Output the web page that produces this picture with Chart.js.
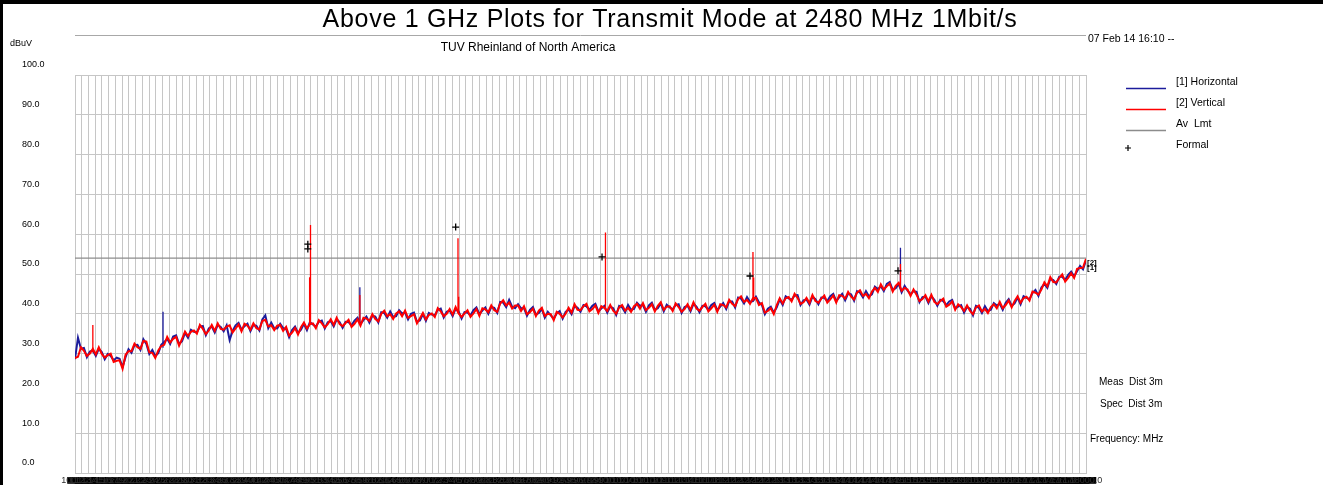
<!DOCTYPE html>
<html>
<head>
<meta charset="utf-8">
<title>Above 1 GHz Plots for Transmit Mode at 2480 MHz 1Mbit/s</title>
<script src="https://cdn.jsdelivr.net/npm/chart.js@4.4.0/dist/chart.umd.min.js"></script>
<style>
  html, body { margin: 0; padding: 0; background: #fff; }
  #c { display: block; }
</style>
</head>
<body>
<canvas id="c" width="1323" height="485"></canvas>
<script>
// Sweep: 1000 MHz to 18000 MHz, one reading every 50 MHz
const freqStartMHz = 1000;
const freqStopMHz = 18000;
const sweepStepMHz = 50;

// [1] Horizontal polarisation, dBuV
const horizontalDbuv = [
  28.6, 34.0, 31.2, 31.4, 29.1, 30.5, 30.8, 29.4, 31.2, 30.4,
  28.6, 29.9, 29.4, 28.3, 29.0, 28.7, 26.6, 29.1, 31.1, 30.2,
  32.1, 32.2, 30.9, 33.6, 32.4, 29.9, 30.9, 29.4, 30.1, 32.2,
  32.9, 33.7, 32.4, 34.3, 34.6, 32.4, 33.1, 35.2, 34.0, 36.0,
  35.5, 35.4, 36.8, 36.9, 34.6, 36.3, 36.8, 35.3, 37.2, 36.7,
  35.6, 37.1, 33.4, 35.7, 37.1, 37.7, 36.0, 36.9, 37.5, 35.6,
  37.2, 37.0, 35.8, 38.6, 39.6, 36.4, 37.8, 36.4, 36.3, 37.5,
  36.4, 36.2, 34.1, 35.9, 36.8, 35.2, 36.0, 37.5, 35.9, 37.9,
  37.3, 36.8, 38.0, 38.3, 36.3, 37.9, 38.2, 36.8, 38.6, 37.9,
  36.5, 38.0, 37.9, 37.1, 38.3, 39.0, 37.4, 38.4, 39.3, 37.8,
  39.5, 39.3, 37.8, 40.4, 40.2, 39.0, 40.6, 39.2, 39.4, 40.9,
  40.1, 40.3, 38.6, 40.0, 40.3, 38.0, 38.3, 39.9, 38.2, 40.2,
  39.8, 39.6, 41.0, 41.3, 39.1, 40.5, 40.8, 39.4, 41.3, 40.6,
  38.8, 40.4, 40.3, 39.6, 40.9, 41.6, 39.9, 40.8, 41.6, 40.0,
  41.7, 41.5, 40.2, 43.0, 42.8, 41.7, 43.5, 41.8, 41.4, 42.4,
  41.4, 41.4, 39.5, 41.0, 41.7, 39.8, 40.2, 41.2, 39.0, 40.5,
  39.6, 38.8, 40.1, 40.7, 38.8, 40.5, 41.1, 39.9, 42.0, 41.5,
  40.5, 42.2, 41.9, 41.0, 42.0, 42.5, 40.6, 41.3, 42.0, 40.3,
  41.8, 41.4, 39.7, 42.0, 41.6, 40.4, 42.2, 41.0, 41.2, 42.8,
  42.0, 42.2, 40.5, 42.1, 42.8, 41.0, 41.4, 42.6, 40.6, 42.3,
  41.6, 41.1, 42.2, 42.4, 40.2, 41.7, 42.0, 40.6, 42.5, 41.8,
  40.4, 42.0, 41.9, 41.0, 42.2, 42.7, 40.9, 41.8, 42.7, 41.2,
  43.1, 43.1, 41.6, 44.1, 43.8, 42.6, 44.2, 43.0, 43.2, 44.3,
  42.9, 42.2, 39.9, 41.3, 41.8, 40.3, 41.6, 43.6, 42.2, 44.4,
  43.9, 43.5, 44.6, 44.7, 42.2, 43.4, 43.6, 42.3, 44.3, 43.7,
  42.4, 44.1, 44.0, 43.2, 44.4, 45.0, 43.2, 44.1, 45.0, 43.4,
  45.1, 44.9, 43.3, 45.7, 45.3, 44.1, 45.7, 44.4, 44.9, 46.8,
  46.2, 46.9, 45.7, 47.5, 48.0, 46.0, 46.4, 47.5, 45.4, 47.0,
  45.8, 44.9, 45.7, 45.5, 42.9, 44.2, 44.3, 42.7, 44.4, 43.5,
  42.0, 43.5, 43.2, 42.2, 43.1, 43.5, 41.4, 41.8, 42.2, 40.3,
  41.7, 41.3, 39.6, 42.0, 41.5, 40.2, 41.9, 40.7, 41.0, 42.7,
  42.1, 42.5, 41.0, 42.8, 43.7, 42.0, 42.6, 44.1, 42.4, 44.4,
  44.0, 43.7, 45.2, 46.0, 44.5, 46.6, 47.5, 46.5, 48.8, 48.5,
  47.5, 49.3, 49.3, 48.5, 49.8, 50.6, 49.4, 50.7, 52.0, 51.2,
  53.4
];

// [2] Vertical polarisation, dBuV
const verticalDbuv = [
  28.9, 29.2, 31.6, 30.7, 29.4, 30.0, 31.2, 29.8, 31.6, 29.9,
  29.0, 29.6, 30.0, 27.9, 28.2, 28.3, 26.2, 29.7, 30.6, 30.6,
  32.5, 31.6, 31.2, 33.2, 33.0, 30.3, 30.2, 28.9, 30.8, 31.9,
  32.2, 34.2, 32.8, 33.7, 34.2, 32.0, 33.7, 35.5, 34.4, 35.5,
  35.8, 35.0, 37.2, 36.2, 34.9, 35.8, 37.2, 35.7, 37.6, 36.2,
  36.0, 36.8, 37.1, 35.3, 36.3, 37.3, 35.6, 37.5, 37.0, 36.0,
  37.6, 36.4, 36.1, 38.2, 38.5, 36.8, 37.1, 35.9, 37.0, 37.2,
  35.7, 36.7, 34.5, 35.3, 36.4, 34.8, 36.6, 37.8, 36.3, 37.4,
  37.6, 36.4, 38.4, 37.6, 36.6, 37.4, 38.6, 37.2, 39.0, 37.4,
  36.9, 37.7, 38.5, 36.7, 37.5, 38.6, 37.0, 39.0, 38.8, 38.2,
  39.9, 38.7, 38.1, 40.0, 40.8, 39.4, 39.9, 38.7, 40.1, 40.6,
  39.4, 40.8, 39.0, 39.4, 39.9, 37.6, 38.9, 40.2, 38.6, 39.7,
  40.1, 39.2, 41.4, 40.6, 39.4, 40.0, 41.2, 39.8, 41.7, 40.1,
  39.2, 40.1, 40.9, 39.2, 40.1, 41.2, 39.5, 41.4, 41.1, 40.4,
  42.1, 40.9, 40.5, 42.6, 43.4, 42.1, 42.8, 41.3, 42.1, 42.1,
  40.7, 41.9, 39.9, 40.4, 41.3, 39.4, 40.8, 41.5, 39.4, 40.0,
  39.9, 38.4, 40.5, 40.0, 39.1, 40.0, 41.5, 40.3, 42.4, 41.0,
  40.9, 41.9, 42.5, 40.6, 41.2, 42.1, 40.2, 41.9, 41.5, 40.7,
  42.2, 40.8, 40.0, 41.6, 42.2, 40.8, 41.5, 40.5, 41.9, 42.5,
  41.3, 42.7, 40.9, 41.5, 42.4, 40.6, 42.0, 42.9, 41.0, 41.8,
  41.9, 40.7, 42.6, 41.7, 40.5, 41.2, 42.4, 41.0, 42.9, 41.3,
  40.8, 41.7, 42.5, 40.6, 41.4, 42.3, 40.5, 42.4, 42.2, 41.6,
  43.5, 42.5, 41.9, 43.7, 44.4, 43.0, 43.5, 42.5, 43.9, 44.0,
  42.2, 42.7, 40.3, 40.7, 41.4, 39.9, 42.2, 43.9, 42.6, 43.9,
  44.2, 43.1, 45.0, 44.0, 42.5, 42.9, 44.0, 42.7, 44.7, 43.2,
  42.8, 43.8, 44.6, 42.8, 43.6, 44.6, 42.8, 44.7, 44.5, 43.8,
  45.5, 44.3, 43.6, 45.3, 45.9, 44.5, 45.0, 43.9, 45.6, 46.5,
  45.5, 47.4, 46.1, 46.9, 47.6, 45.6, 47.0, 47.8, 45.8, 46.5,
  46.1, 44.5, 46.1, 44.8, 43.2, 43.7, 44.7, 43.1, 44.8, 43.0,
  42.4, 43.2, 43.8, 41.8, 42.3, 43.1, 41.0, 42.4, 41.7, 40.7,
  42.1, 40.7, 39.9, 41.6, 42.1, 40.6, 41.2, 40.2, 41.7, 42.4,
  41.4, 43.0, 41.4, 42.2, 43.3, 41.6, 43.2, 44.4, 42.8, 43.9,
  44.3, 43.3, 45.6, 45.3, 44.8, 46.1, 47.9, 46.9, 49.2, 48.0,
  47.9, 49.0, 49.9, 48.1, 49.0, 50.2, 49.0, 51.3, 51.5, 51.6,
  53.8
];

// Narrow emissions (carrier, harmonics, spurs): frequency, floor and peak
const verticalSpikeFreq = [1300, 4945, 4960, 5790, 7440, 7452, 9920, 12400, 12412, 14880];
const verticalSpikeFloor = [30.3, 37.2, 37.2, 37.7, 40.3, 40.3, 41.4, 43.4, 43.3, 46.5];
const verticalSpikePeak = [37.2, 49.2, 62.3, 44.7, 59.0, 44.3, 60.4, 55.5, 49.1, 52.5];

const horizontalSpikeFreq = [2480, 5790, 14880];
const horizontalSpikeFloor = [31.5, 37.7, 46.5];
const horizontalSpikePeak = [40.5, 46.7, 56.6];

// Average limit line
const avLimitFreq = [1000, 18000];
const avLimitDbuv = [54, 54];

// Formal (final) measurement points
const formalFreq = [4915, 4915, 7401, 9862, 12350, 14839];
const formalDbuv = [57.5, 56.3, 61.8, 54.3, 49.5, 50.8];

// Axis setup
const yTickStep = 10;
const xGridDivisions = 150;

const FONT = '"Liberation Sans", Arial, Helvetica, sans-serif';
const BLUE = '#1c1c9c';
const RED = '#ff0000';
const GREY = '#8c8c8c';

const sweepPoints = (vals) => vals.map((v, i) => ({ x: freqStartMHz + i * sweepStepMHz, y: v }));
const spikePoints = (f, lo, hi) => {
  const out = [];
  f.forEach((fr, i) => {
    out.push({ x: fr, y: lo[i] }, { x: fr, y: hi[i] }, { x: fr, y: null });
  });
  return out;
};

const annotate = {
  id: 'annotate',
  beforeDraw(chart) {
    const ctx = chart.ctx;
    ctx.save();
    ctx.fillStyle = '#ffffff';
    ctx.fillRect(0, 0, chart.width, chart.height);
    ctx.fillStyle = '#000000';
    ctx.fillRect(0, 0, chart.width, 4);
    ctx.fillRect(0, 0, 3, chart.height);
    ctx.restore();
  },
  afterDraw(chart) {
    const ctx = chart.ctx;
    const area = chart.chartArea;
    ctx.save();

    // header rule
    ctx.strokeStyle = '#a8a8a8';
    ctx.lineWidth = 1;
    ctx.beginPath();
    ctx.moveTo(area.left, 35.5);
    ctx.lineTo(area.right, 35.5);
    ctx.stroke();

    ctx.fillStyle = '#000';
    ctx.textBaseline = 'middle';

    // title
    ctx.font = '25px ' + FONT;
    ctx.textAlign = 'center';
    ctx.letterSpacing = '0.7px';
    ctx.fillText('Above 1 GHz Plots for Transmit Mode at 2480 MHz 1Mbit/s', 670, 20);
    ctx.letterSpacing = '0px';

    ctx.font = '12px ' + FONT;
    ctx.fillText('TUV Rheinland of North America', 528, 48);

    ctx.textAlign = 'left';
    ctx.font = '10.5px ' + FONT;
    ctx.fillText('07 Feb 14 16:10 --', 1088, 39);
    ctx.font = '9px ' + FONT;
    ctx.fillText('dBuV', 10, 44);

    // legend
    const legend = [
      { text: '[1] Horizontal', color: BLUE },
      { text: '[2] Vertical', color: RED },
      { text: 'Av  Lmt', color: GREY },
      { text: 'Formal', color: null }
    ];
    ctx.font = '10.5px ' + FONT;
    legend.forEach((item, i) => {
      const ty = 82 + i * 21;
      if (item.color) {
        ctx.strokeStyle = item.color;
        ctx.lineWidth = 1.5;
        ctx.beginPath();
        ctx.moveTo(1126, ty + 6.5);
        ctx.lineTo(1166, ty + 6.5);
        ctx.stroke();
      } else {
        ctx.strokeStyle = '#000';
        ctx.lineWidth = 1.2;
        ctx.beginPath();
        ctx.moveTo(1125, ty + 3); ctx.lineTo(1131, ty + 3);
        ctx.moveTo(1128, ty); ctx.lineTo(1128, ty + 6);
        ctx.stroke();
      }
      ctx.fillStyle = '#000';
      ctx.fillText(item.text, 1176, ty);
    });

    // notes
    ctx.font = '10px ' + FONT;
    ctx.fillText('Meas  Dist 3m', 1099, 382);
    ctx.fillText('Spec  Dist 3m', 1100, 404);
    ctx.fillText('Frequency: MHz', 1090, 439);

    // trace end tags
    ctx.font = 'bold 8px ' + FONT;
    ctx.fillText('[2]', 1087, 263);
    ctx.fillText('[1]', 1087, 268);

    ctx.restore();
  }
};

new Chart(document.getElementById('c'), {
  type: 'line',
  data: {
    datasets: [
      {
        label: 'Formal',
        type: 'scatter',
        data: formalFreq.map((f, i) => ({ x: f, y: formalDbuv[i] })),
        pointStyle: 'cross',
        pointRadius: 3.5,
        pointBorderColor: '#000',
        pointBorderWidth: 1.3,
        showLine: false,
        order: 0
      },
      {
        label: '[2] Vertical',
        data: sweepPoints(verticalDbuv),
        borderColor: RED,
        borderWidth: 2,
        pointRadius: 0,
        tension: 0,
        order: 1
      },
      {
        label: '[2] Vertical peaks',
        data: spikePoints(verticalSpikeFreq, verticalSpikeFloor, verticalSpikePeak),
        borderColor: RED,
        borderWidth: 1.3,
        pointRadius: 0,
        spanGaps: false,
        order: 1
      },
      {
        label: '[1] Horizontal',
        data: sweepPoints(horizontalDbuv),
        borderColor: BLUE,
        borderWidth: 2,
        pointRadius: 0,
        tension: 0,
        order: 2
      },
      {
        label: '[1] Horizontal peaks',
        data: spikePoints(horizontalSpikeFreq, horizontalSpikeFloor, horizontalSpikePeak),
        borderColor: BLUE,
        borderWidth: 1.3,
        pointRadius: 0,
        spanGaps: false,
        order: 2
      },
      {
        label: 'Av Lmt',
        data: avLimitFreq.map((f, i) => ({ x: f, y: avLimitDbuv[i] })),
        borderColor: GREY,
        borderWidth: 1.2,
        pointRadius: 0,
        order: 3
      }
    ]
  },
  options: {
    responsive: false,
    animation: false,
    devicePixelRatio: 1,
    layout: { padding: { left: 22, right: 237, top: 75, bottom: 0 } },
    plugins: {
      legend: { display: false },
      title: { display: false },
      tooltip: { enabled: false }
    },
    scales: {
      x: {
        type: 'linear',
        min: freqStartMHz,
        max: freqStopMHz,
        afterBuildTicks(scale) {
          const span = freqStopMHz - freqStartMHz;
          scale.ticks = Array.from({ length: xGridDivisions + 1 },
            (_, i) => ({ value: freqStartMHz + i * span / xGridDivisions }));
        },
        afterFit(scale) {
          scale.height = 12;
          scale.paddingLeft = 0;
          scale.paddingRight = 0;
        },
        grid: { color: '#c6c6c6', lineWidth: 1, drawTicks: false },
        border: { color: '#c6c6c6' },
        ticks: {
          autoSkip: false,
          maxRotation: 0,
          minRotation: 0,
          padding: 2,
          color: '#2e2e2e',
          showLabelBackdrop: true,
          backdropColor: '#000',
          backdropPadding: { top: -2, bottom: -2, left: -6, right: -6 },
          font: { family: FONT, size: 9 },
          callback: (v) => Number(v).toFixed(1)
        }
      },
      y: {
        min: 0,
        max: 100,
        afterFit(scale) {
          scale.width = 53;
          scale.paddingTop = 0;
          scale.paddingBottom = 0;
        },
        grid: { color: '#c6c6c6', lineWidth: 1, drawTicks: false },
        border: { color: '#c6c6c6' },
        ticks: {
          stepSize: yTickStep,
          crossAlign: 'far',
          labelOffset: -10,
          color: '#000',
          font: { family: FONT, size: 9 },
          callback: (v) => Number(v).toFixed(1)
        }
      }
    }
  },
  plugins: [annotate]
});
</script>
</body>
</html>
